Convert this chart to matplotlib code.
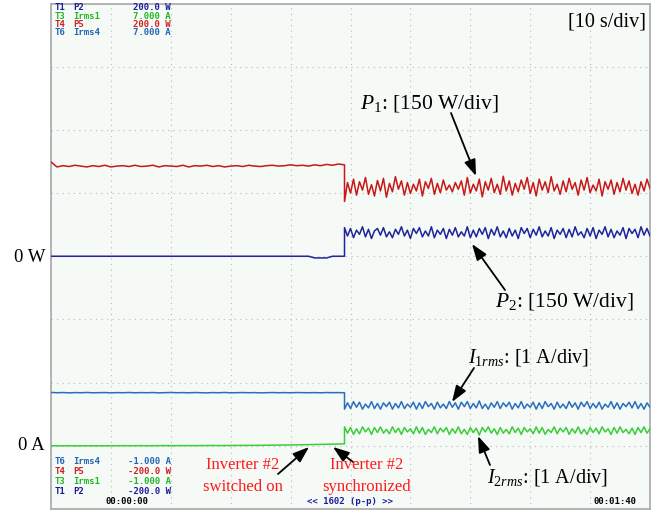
import numpy as np
import matplotlib
matplotlib.use('Agg')
import matplotlib.pyplot as plt

W, H = 671, 514

# ---------------- data ----------------
t_start, t_switch, t_end = 0.0, 49.0, 100.0   # s
p_scale = 150.0      # W/div
i_scale = 1.0        # A/div
p_zero_div = 4.0     # 0 W position (div from bottom)
i_zero_div = 1.0     # 0 A position (div from bottom)

# P1 (red, T4 P5), W
p1_before = [224, 212, 215, 213, 216, 214, 212, 215, 213, 216, 212, 214, 215, 213, 216, 213,
             214, 216, 212, 215, 214, 213, 216, 212, 215, 214, 216, 213, 215, 212, 214, 215,
             213, 216, 214, 213, 215, 216, 214, 215, 217, 215, 216, 214, 217, 215, 218, 216,
             219, 217]
p1_after_mean = 165.0
p1_after_dev = [-35, 10, -15, 18, -20, 12, -8, 22, -18, 5, -22, 15, -10, 20, -25, 8, -12, 24,
                -6, 14, -20, 10, -16, 6, -10, 18, -22, 12, -4, 20, -18, 8, -14, 16, -8, 4,
                -12, 10, -6, 14, -20, 22, -15, 6, -10, 18, -24, 12, -8, 20, -14, 6, -18, 25,
                -10, 14, -20, 8, -12, 16, -6, 22, -16, 10, -22, 18, -8, 12, -14, 24, -10, 6,
                -18, 14, -12, 20, -6, 10, -20, 16, -8, 22, -14, 4, -10, 18, -22, 12, -6, 16,
                -18, 10, -12, 20, -8, 14, -16, 6, -20, 12, -10, 18, -4]

# P2 (dark blue, T1 P2), W
p2_before = [0, 0, 0, 0, 0, 0, 0, 0, 0, 0, 0, 0, 0, 0, 0, 0, 0, 0, 0, 0, 0, 0, 0, 0, 0,
             0, 0, 0, 0, 0, 0, 0, 0, 0, 0, 0, 0, 0, 0, 0, 0, 0, 0, 0, -4, -4, -4, 0, 0, 0]
p2_after_mean = 56.0
p2_after_dev = [12, -8, 10, -12, 6, -4, 14, -10, 8, -14, 4, 10, -6, 12, -10, 2, -12, 8, -4, 14,
                -8, 6, -14, 10, -2, 12, -10, 4, -8, 14, -12, 6, -4, 10, -14, 8, -6, 12, -10, 2,
                -8, 14, -12, 6, -10, 10, -4, 12, -14, 8, -6, 14, -10, 4, -12, 10, -8, 6, -14,
                12, -2, 10, -12, 8, -6, 14, -10, 4, -8, 12, -14, 6, -4, 10, -12, 8, -10, 14, -6,
                2, -12, 10, -8, 12, -14, 6, -4, 14, -10, 8, -12, 4, -6, 12, -14, 10, -2, 8, -12,
                14, -6, 10, -8]

# I1rms (blue, T6 Irms4), A
i1_before = [0.845, 0.840, 0.843, 0.838, 0.842, 0.840, 0.844, 0.839, 0.841, 0.843, 0.838,
             0.842, 0.840, 0.844, 0.839, 0.842, 0.840, 0.843, 0.838, 0.841, 0.844, 0.840,
             0.842, 0.839, 0.843, 0.841, 0.838, 0.842, 0.840, 0.844, 0.839, 0.841, 0.843,
             0.840, 0.842, 0.838, 0.841, 0.843, 0.840, 0.842, 0.839, 0.843, 0.841, 0.840,
             0.842, 0.839, 0.843, 0.841, 0.842, 0.840]
i1_after_mean = 0.64
i1_after_dev = [-6, 4, -5, 6, -3, 5, -6, 2, -4, 6, -5, 3, -6, 4, -2, 5, -6, 3, -4, 6, -5, 2, -3,
                5, -6, 4, -5, 6, -2, 3, -6, 5, -4, 2, -5, 6, -3, 4, -6, 5, -2, 6, -5, 3, -4, 7,
                -5, 2, -6, 4, -3, 6, -5, 4, -2, 5, -6, 3, -4, 6, -5, 2, -3, 5, -6, 4, -5, 6, -2,
                3, -6, 5, -4, 2, -5, 6, -3, 4, -6, 5, -2, 6, -5, 3, -4, 5, -6, 2, -3, 6, -5, 4,
                -6, 3, -2, 5, -4, 6, -5, 3, -6, 4, -3]   # x0.01 A

# I2rms (green, T3 Irms1), A
i2_before = [0.000, 0.001, 0.000, 0.001, 0.000, 0.001, 0.000, 0.001, 0.001, 0.000, 0.001,
             0.001, 0.002, 0.001, 0.002, 0.002, 0.001, 0.002, 0.002, 0.003, 0.002, 0.003,
             0.003, 0.004, 0.003, 0.004, 0.004, 0.005, 0.004, 0.005, 0.005, 0.006, 0.006,
             0.007, 0.007, 0.008, 0.009, 0.010, 0.011, 0.012, 0.013, 0.015, 0.017, 0.019,
             0.021, 0.023, 0.025, 0.027, 0.029, 0.030]
i2_after_mean = 0.24
i2_after_dev = [6, -4, 5, -6, 3, -5, 6, -2, 4, -6, 5, -3, 6, -4, 2, -5, 6, -3, 4, -6, 5, -2, 3,
                -5, 6, -4, 5, -6, 2, -3, 6, -5, 4, -2, 5, -6, 3, -4, 6, -5, 2, -6, 5, -3, 4, -7,
                5, -2, 6, -4, 3, -6, 5, -4, 2, -5, 6, -3, 4, -6, 5, -2, 3, -5, 6, -4, 5, -6, 2,
                -3, 6, -5, 4, -2, 5, -6, 3, -4, 6, -5, 2, -6, 5, -3, 4, -5, 6, -2, 3, -6, 5, -4,
                6, -3, 2, -5, 4, -6, 5, -3, 6, -4, 3]   # x0.01 A

top_rows = [("T1", "P2", "200.0 W"), ("T3", "Irms1", "7.000 A"),
            ("T4", "P5", "200.0 W"), ("T6", "Irms4", "7.000 A")]
bottom_rows = [("T6", "Irms4", "-1.000 A"), ("T4", "P5", "-200.0 W"),
               ("T3", "Irms1", "-1.000 A"), ("T1", "P2", "-200.0 W")]
row_colors = {"T1": "#1c1ca0", "T3": "#22b822", "T4": "#d02020", "T6": "#2464b4"}

# ---------------- figure ----------------
plt.rcParams['mathtext.fontset'] = 'custom'
plt.rcParams['mathtext.rm'] = 'Liberation Serif'
plt.rcParams['mathtext.it'] = 'Liberation Serif:italic'

fig = plt.figure(figsize=(W / 100, H / 100), dpi=100)
fig.patch.set_facecolor('white')
L, R, T, B = 51, 650, 3.5, 509
ax = fig.add_axes([L / W, 1 - B / H, (R - L) / W, (B - T) / H])
ax.set_facecolor('#f5faf7')
ax.set_xlim(t_start, t_end)
ax.set_ylim(0, 8)
ax.set_xticks(np.arange(0, 101, 10))
ax.set_yticks(np.arange(0, 9, 1))
ax.tick_params(length=0, labelbottom=False, labelleft=False)
ax.grid(True, color='#b8b8b8', linestyle=(0, (1, 4)), linewidth=0.8)
for s in ax.spines.values():
    s.set_color('#a8a8a8')
    s.set_linewidth(1.2)


def trace(before, after_mean, after_dev, dev_unit, zero, scale, color, lw=1.1):
    tb = np.linspace(t_start, t_switch, len(before))
    ta = np.linspace(t_switch, t_end, len(after_dev))
    vb = np.asarray(before, float)
    va = after_mean + np.asarray(after_dev, float) * dev_unit
    t = np.concatenate([tb, ta])
    v = np.concatenate([vb, va])
    ax.plot(t, zero + v / scale, color=color, lw=lw, zorder=3)


trace(p1_before, p1_after_mean, p1_after_dev, 1.0, p_zero_div, p_scale, '#c81818')
trace(p2_before, p2_after_mean, p2_after_dev, 1.0, p_zero_div, p_scale, '#23239a')
trace(i1_before, i1_after_mean, i1_after_dev, 0.01, i_zero_div, i_scale, '#2a6fba')
trace(i2_before, i2_after_mean, i2_after_dev, 0.01, i_zero_div, i_scale, '#3ccc3c')


def fx(x):
    return x / W


def fy(y):
    return 1 - y / H


mono = dict(family='DejaVu Sans Mono', fontsize=6.5, fontweight='bold', va='center')
for k, (a, b, c) in enumerate(top_rows):
    y = 8 + 8.3 * k
    col = row_colors[a]
    fig.text(fx(55), fy(y), a, color=col, ha='left', **mono)
    fig.text(fx(73), fy(y), b, color=col, ha='left', **mono)
    fig.text(fx(171), fy(y), c, color=col, ha='right', **mono)
for k, (a, b, c) in enumerate(bottom_rows):
    y = 462 + 10 * k
    col = row_colors[a]
    fig.text(fx(55), fy(y), a, color=col, ha='left', **mono)
    fig.text(fx(73), fy(y), b, color=col, ha='left', **mono)
    fig.text(fx(171), fy(y), c, color=col, ha='right', **mono)
fig.text(fx(127), fy(502), "00:00:00", color='black', ha='center', **mono)
fig.text(fx(350), fy(502), "<< 1602 (p-p) >>", color='#1c1ca0', ha='center', **mono)
fig.text(fx(636), fy(502), "00:01:40", color='black', ha='right', **mono)

serif = dict(family='Liberation Serif', fontsize=14.5, va='center')
big_serif = dict(family='Liberation Serif', fontsize=15.5, va='center')
small_serif = dict(family='Liberation Serif', fontsize=13.5, va='center')

fig.text(fx(646), fy(22), "[10 s/div]", ha='right', color='black', **serif)
fig.text(fx(45), fy(257), "0 W", ha='right', color='black', **small_serif)
fig.text(fx(45), fy(446), "0 A", ha='right', color='black', **small_serif)
fig.text(fx(360), fy(103), r"$P_{\mathit{1}}$: [150 W/div]", ha='left', color='black', **big_serif)
fig.text(fx(495), fy(302), r"$P_{\mathit{2}}$: [150 W/div]", ha='left', color='black', **big_serif)
fig.text(fx(468), fy(357), r"$I_{\mathit{1rms}}$: [1 A/div]", ha='left', color='black', **serif)
fig.text(fx(487), fy(477), r"$I_{\mathit{2rms}}$: [1 A/div]", ha='left', color='black', **serif)

red = dict(family='Liberation Serif', fontsize=12, va='center', ha='center', color='#ff1a1a',
           linespacing=1.45)
fig.text(fx(243), fy(476), "Inverter #2\nswitched on", **red)
fig.text(fx(367), fy(476), "Inverter #2\nsynchronized", **red)

arrows = [((451, 113), (476, 176)), ((505, 290), (472, 244)), ((474, 368), (452, 402)),
          ((490, 465), (478, 436)), ((278, 474), (309, 447)), ((353, 462), (333, 447))]
for (x1, y1), (x2, y2) in arrows:
    fig.add_artist(matplotlib.patches.FancyArrowPatch(
        (fx(x1), fy(y1)), (fx(x2), fy(y2)), transform=fig.transFigure,
        arrowstyle='-|>,head_width=0.25,head_length=0.7', mutation_scale=14,
        color='black', lw=1.3, shrinkA=0, shrinkB=0))

fig.savefig('out.png', dpi=100)
